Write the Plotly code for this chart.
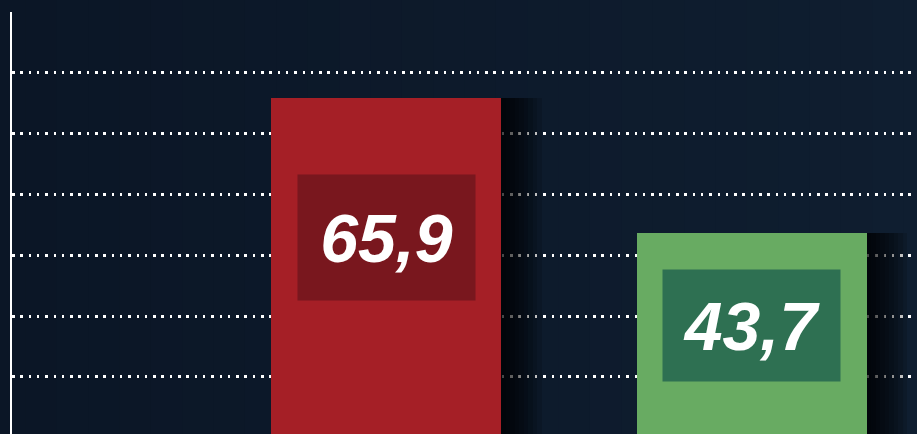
import plotly.graph_objects as go

# ---- data ----
categories = ["Serie A", "Serie B"]
values = [65.9, 43.7]
labels = ["65,9", "43,7"]
bar_colors = ["#a51f26", "#68ab62"]
box_colors = ["#79171e", "#2e7052"]
grid_values = [20, 30, 40, 50, 60, 70]

# ---- geometry ----
W, H = 917, 434
ML, MT = 12, 12
px_per_cat = 365.5
bar_w = 230 / px_per_cat
x_lo = -(386 - ML) / px_per_cat
x_hi = 1 + (W - 751.5) / px_per_cat

fig = go.Figure()

# soft shadow layers to the right of bars
for i in range(1, 10):
    dx = i * 4.5 / px_per_cat
    fig.add_trace(go.Bar(
        x=categories, y=values,
        width=bar_w, offset=-bar_w / 2 + dx,
        marker=dict(color="rgba(0,0,0,0.13)", line=dict(width=0)),
        hoverinfo="skip", showlegend=False,
    ))

fig.add_trace(go.Bar(
    x=categories, y=values,
    width=bar_w, offset=-bar_w / 2,
    marker=dict(color=bar_colors, line=dict(width=0)),
    showlegend=False,
))

for c, v, lab, bc, h in zip(categories, values, labels, box_colors, [125, 111]):
    fig.add_annotation(
        x=c, y=v * 0.65, xref="x", yref="y",
        text=lab, showarrow=False,
        bgcolor=bc, width=177, height=h, borderpad=0,
        font=dict(family="Liberation Sans, Arial, sans-serif", size=68,
                  color="white", weight="bold", style="italic"),
        align="center", valign="middle",
    )

# background horizontal gradient
shapes = []
n = 30
c0 = (11, 22, 38)
c1 = (15, 30, 48)
for i in range(n):
    t = i / (n - 1)
    col = tuple(round(a + (b - a) * t) for a, b in zip(c0, c1))
    shapes.append(dict(
        type="rect", xref="paper", yref="paper",
        x0=-0.02 + i * 1.04 / n, x1=-0.02 + (i + 1) * 1.04 / n + 0.002,
        y0=-0.05, y1=1.05, fillcolor="rgb(%d,%d,%d)" % col,
        line=dict(width=0), layer="below",
    ))

fig.update_layout(
    width=W, height=H,
    margin=dict(l=ML, r=0, t=MT, b=0, pad=0),
    paper_bgcolor="#0b1626",
    plot_bgcolor="rgba(0,0,0,0)",
    barmode="overlay",
    bargap=0,
    shapes=shapes,
    showlegend=False,
    xaxis=dict(range=[x_lo, x_hi], showticklabels=False, showgrid=False,
               zeroline=False, showline=False, ticks=""),
    yaxis=dict(range=[10.6, 80], tickvals=grid_values, showticklabels=False,
               showgrid=True, gridcolor="white", gridwidth=2.5,
               griddash="2.5px,5.8px", zeroline=False,
               showline=True, linecolor="white", linewidth=2, ticks=""),
)

fig.write_html(
    "out.html",
    config={"displayModeBar": False},
    post_script="document.body.style.margin='0';document.body.style.background='#0b1626';",
)
